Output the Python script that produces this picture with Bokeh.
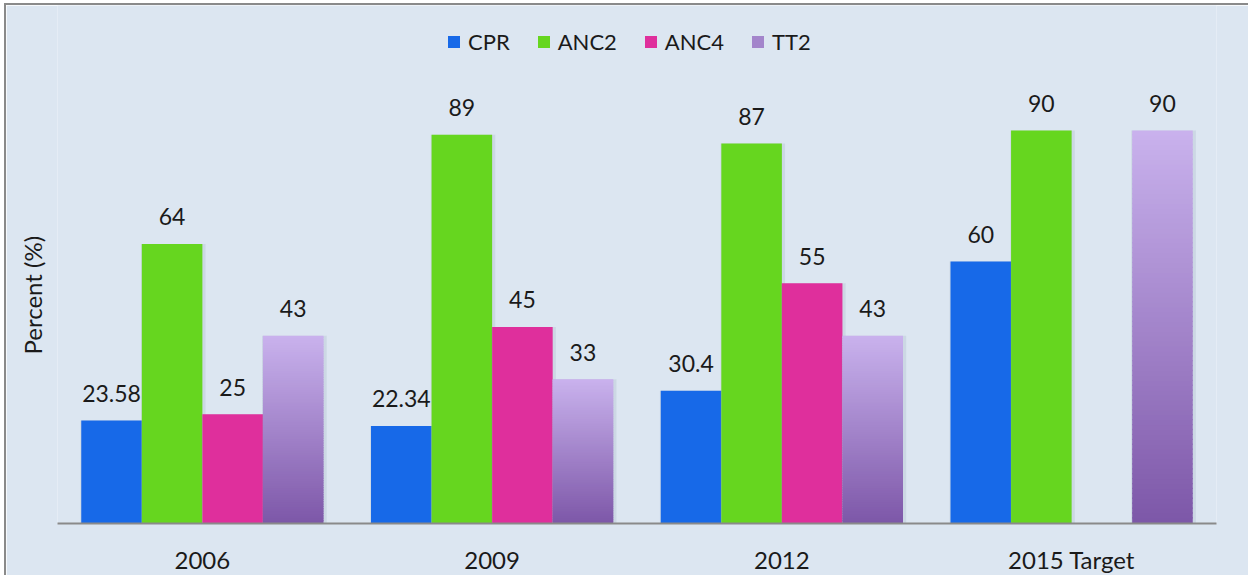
import numpy as np
from bokeh.plotting import figure
from bokeh.models import (ColumnDataSource, FactorRange, Range1d, Legend, LegendItem,
                          LabelSet, Title)
from bokeh.core.properties import value
from bokeh.transform import dodge
from bokeh.embed import file_html
from bokeh.resources import INLINE

# ---- data ----
years = ["2006", "2009", "2012", "2015 Target"]
series = ["CPR", "ANC2", "ANC4", "TT2"]
cpr = [23.58, 22.34, 30.4, 60]
anc2 = [64, 89, 87, 90]
anc4 = [25, 45, 55, None]
tt2 = [43, 33, 43, 90]
y_title = "Percent (%)"

values = {"CPR": cpr, "ANC2": anc2, "ANC4": anc4, "TT2": tt2}
colors = {"CPR": "#1769e8", "ANC2": "#66d61f", "ANC4": "#df2f9c"}
tt2_top = np.array([201, 178, 237])
tt2_bottom = np.array([125, 87, 168])

FONT = "Lato"
BG = "#dce6f1"
BAR_W = 0.209
offsets = {s: (i - 1.5) * BAR_W for i, s in enumerate(series)}

p = figure(x_range=FactorRange(*years, range_padding=0), y_range=Range1d(0, 118.6),
           width=1244, height=572, output_backend="svg", toolbar_location=None, title=None,
           min_border_left=51, min_border_right=34, min_border_top=0, min_border_bottom=54)
p.styles = {"border-left": "2px solid #8a8a8a", "border-top": "2px solid #8a8a8a",
            "margin-left": "4px", "margin-top": "3px"}
p.background_fill_color = BG
p.border_fill_color = BG
p.outline_line_color = None
p.xgrid.grid_line_color = None
p.ygrid.grid_line_color = None

renderers = {}
for s in series:
    xs = [y for y, v in zip(years, values[s]) if v is not None]
    vs = [v for v in values[s] if v is not None]
    src = ColumnDataSource(dict(x=xs, top=vs, lab=[f"{v:g}" for v in vs]))
    # soft shadow
    p.vbar(x=dodge("x", offsets[s] + 0.004, range=p.x_range), top="top", bottom=0,
           width=BAR_W + 0.014, source=src, fill_color="#7f8da3", fill_alpha=0.16, line_color=None)
    if s != "TT2":
        r = p.vbar(x=dodge("x", offsets[s], range=p.x_range), top="top", bottom=0,
                   width=BAR_W, source=src, fill_color=colors[s], line_color=None)
    else:
        N = 80
        gx, gb, gt, gc = [], [], [], []
        for y, v in zip(xs, vs):
            for k in range(N):
                t = (k + 0.5) / N
                c = tt2_bottom * (1 - t) + tt2_top * t
                gx.append(y)
                gb.append(v * k / N)
                gt.append(v * (k + 1) / N + (0.3 if k < N - 1 else 0))
                gc.append("#%02x%02x%02x" % tuple(int(round(q)) for q in c))
        gsrc = ColumnDataSource(dict(x=gx, bottom=gb, top=gt, color=gc))
        r = p.vbar(x=dodge("x", offsets[s], range=p.x_range), top="top", bottom="bottom",
                   width=BAR_W, source=gsrc, fill_color="color", line_color=None)
    renderers[s] = r
    labels = LabelSet(x=dodge("x", offsets[s], range=p.x_range), y="top", text="lab",
                      source=src, y_offset=27, text_align="center", text_baseline="middle",
                      text_font=value(FONT), text_font_size=value("23px"), text_color="#1a1a1a")
    p.add_layout(labels)

items = []
for s in series:
    if s == "TT2":
        items.append(LegendItem(label=s, renderers=[renderers[s]], index=40))
    else:
        items.append(LegendItem(label=s, renderers=[renderers[s]]))
legend = Legend(items=items, orientation="horizontal", location=(389, 468),
                glyph_width=15, glyph_height=15, label_standoff=7, spacing=26,
                padding=0, margin=0, background_fill_alpha=0, border_line_color=None,
                label_text_font=FONT, label_text_font_size="22px", label_text_color="#1a1a1a")
p.add_layout(legend, "center")

# axes
p.xaxis.axis_line_color = "#8a8a8a"
p.xaxis.axis_line_width = 2
p.xaxis.major_tick_line_color = None
p.xaxis.minor_tick_line_color = None
p.xaxis.major_tick_out = 0
p.xaxis.major_label_standoff = 21
p.xaxis.major_label_text_font = FONT
p.xaxis.major_label_text_font_size = "24px"
p.xaxis.major_label_text_color = "#1a1a1a"

p.yaxis.visible = False
p.add_layout(Title(text=y_title, align="left", offset=169, vertical_align="middle",
                   standoff=19, text_font=FONT, text_font_style="normal",
                   text_font_size="24px", text_color="#1a1a1a"), "left")

open("out.html", "w").write(file_html(p, INLINE))
